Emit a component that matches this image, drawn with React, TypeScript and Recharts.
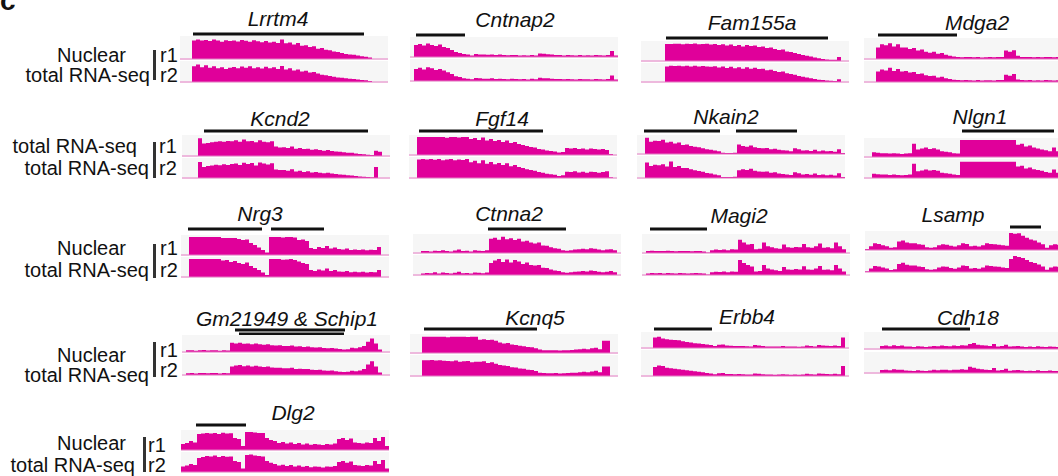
import React from "react";
import { AreaChart, Area, XAxis, YAxis, LineChart, Line } from "recharts";

const MAGENTA = "#E0009A";
const BASELINE = "#E57CC4";
const TRACK_BG = "#F6F6F6";
const FONT = "Arial, 'Liberation Sans', Helvetica, sans-serif";
const BIN = 4; // px per bin

// coverage per bin, 0..10 = full track height
const lrrtm4R1 = [0, 0, 0, 8, 8.5, 8, 8.3, 7.8, 8.5, 8, 7.5, 8.2, 7.8, 8, 7.6, 8.3, 7.9, 7.5, 8.1, 7.7, 7.3, 7.8, 7.2, 7.5, 7, 8.5, 6.8, 7.2, 6.3, 7, 5.8, 6, 5.2, 5.5, 4.5, 4.8, 4, 3.8, 3.3, 3, 2.6, 2.2, 2, 1.8, 1.5, 1.2, 1, 0.6, 0, 0, 0, 0];
const lrrtm4R2 = [0, 0, 0, 7.5, 8.3, 7, 8, 6.8, 7.5, 6.5, 7, 6.2, 6.8, 7.2, 6.5, 7.4, 6.8, 7.5, 6.6, 7, 6.4, 7.3, 6.5, 7, 6.2, 7.6, 6, 6.5, 5.5, 6, 5, 5.4, 4.5, 4.8, 4, 3.5, 3.2, 2.8, 2.5, 2.2, 2, 1.8, 1.6, 1.4, 1.2, 1, 0.8, 0.5, 0, 0, 0, 0];

const cntnap2R1 = [0, 6, 6.5, 5.8, 6.8, 6, 5.5, 6.2, 5, 4.5, 3.5, 2.5, 2, 1.5, 1.2, 0.8, 1.5, 1.3, 1.2, 1.1, 1.3, 1, 1.2, 1, 0.9, 1, 1, 0.8, 0.9, 0.8, 1, 0.8, 1.8, 1.6, 1.4, 1.2, 1, 1, 0.8, 1, 0.9, 0.8, 1, 0.8, 0.9, 0.8, 1, 0.9, 0.8, 1, 3, 0.8];
const cntnap2R2 = [0, 5.5, 6, 5.2, 6.2, 5.8, 5, 5.5, 4.8, 4, 3.2, 2.2, 1.8, 1.2, 1, 0.8, 1.4, 1.2, 1, 1, 1.2, 0.9, 1, 0.9, 0.8, 1, 0.9, 0.8, 0.9, 0.7, 1, 0.8, 1.5, 1.3, 1.2, 1, 0.9, 0.9, 0.8, 0.9, 0.8, 0.7, 0.9, 0.8, 0.8, 0.7, 0.9, 0.8, 0.7, 0.9, 2.5, 0.7];

const fam155aR1 = [0, 0, 0, 0, 0, 0, 8.5, 8.5, 8.6, 8.6, 8.4, 8.6, 8.5, 8.7, 8.4, 8.5, 8.6, 8.3, 8.5, 8, 8.4, 7.8, 8.2, 7.5, 8, 7.2, 8, 7.5, 7.8, 7, 7.3, 6.5, 6.8, 6, 5.5, 5.8, 4.8, 4.5, 4, 3.5, 3, 2.6, 2.2, 1.8, 1.4, 1, 0.8, 0.6, 0.6, 2, 0, 0];
const fam155aR2 = [0, 0, 0, 0, 0, 0, 8.2, 8.6, 8.4, 8.5, 8.3, 8.6, 8.2, 8.5, 8.1, 8.4, 8.2, 8, 8.3, 7.6, 8.2, 7.4, 8, 7.2, 7.8, 7, 7.8, 7, 7.5, 6.8, 7, 6.2, 6.5, 5.8, 5.2, 5.5, 4.6, 4.2, 3.8, 3.2, 2.8, 2.4, 2, 1.6, 1.2, 1, 0.8, 0.6, 0.5, 1.5, 0, 0];

const mdga2R1 = [0, 0, 0, 5.5, 7, 6.5, 7.5, 6, 7, 5.5, 5.5, 4.8, 5.2, 4, 4.5, 3.5, 3, 3.5, 2.5, 2.8, 2, 1.5, 1.2, 1, 0.8, 1, 0.9, 0.8, 1, 0.7, 0.8, 0.9, 0.8, 1, 1, 4, 3.5, 4.2, 1.5, 1, 0.9, 1, 0.8, 0.9, 0.8, 1, 0.9, 0.8, 0.9];
const mdga2R2 = [0, 0, 0, 5, 6, 5.5, 6.8, 5.2, 6.2, 5, 5.2, 4.5, 4.8, 3.8, 4, 3.2, 2.8, 3, 2.2, 2.5, 1.8, 1.4, 1.1, 0.9, 0.8, 0.9, 0.8, 0.7, 0.9, 0.7, 0.8, 0.8, 0.7, 0.9, 0.9, 3.5, 3, 3.8, 1.2, 0.9, 0.8, 0.9, 0.7, 0.8, 0.7, 0.9, 0.8, 0.7, 0.8];

const kcnd2R1 = [0, 0, 0, 0, 8.5, 6, 6.2, 6.5, 6.8, 7, 6.8, 7.2, 7, 7.5, 6.8, 7.8, 7, 7.2, 6.5, 7.5, 6.8, 6.5, 7, 4.5, 4, 4.2, 3.8, 4.5, 3.5, 3.8, 3.3, 3.5, 3, 3.2, 2.8, 2.5, 2.8, 2.4, 2.2, 2, 1.8, 1.6, 1.5, 1.2, 1, 0.8, 0.6, 0.5, 2.5, 2, 0, 0];
const kcnd2R2 = [0, 0, 0, 0, 8, 5.5, 6, 6.2, 6.6, 6.4, 6.9, 6.5, 7, 7.2, 6.5, 7.6, 7, 7.5, 6.2, 7.8, 7.2, 6.8, 7.4, 4.2, 4, 4, 3.6, 4.4, 3.3, 3.6, 3, 3.4, 2.8, 3, 2.6, 2.4, 2.6, 2.2, 2, 1.8, 1.6, 1.4, 1.2, 1, 0.8, 0.6, 0.5, 0.4, 5.5, 0, 0, 0];

const fgf14R1 = [0, 0, 9, 9, 9, 9, 9, 9, 9, 8.6, 9, 9, 8.8, 9, 9, 8, 8.5, 7.5, 8.8, 7.2, 8, 7, 7.5, 6.5, 7.2, 6, 6.5, 5.5, 5, 4.5, 4, 3.8, 3, 2.8, 2.2, 2, 1.8, 1.2, 1.5, 3.5, 3.2, 3.5, 3, 3.3, 2.8, 3.2, 3, 2.8, 3, 2.5, 0.5, 0];
const fgf14R2 = [0, 0, 8.8, 9, 8.8, 9, 8.7, 9, 8.5, 8.8, 9, 8.5, 8.8, 8.6, 9, 7.5, 8.2, 7, 8.5, 6.8, 7.6, 6.5, 7.2, 6.2, 7, 5.6, 6.2, 5.2, 4.8, 4.2, 3.8, 3.5, 2.8, 2.5, 2, 1.8, 1.6, 1, 1.3, 3, 2.8, 3.2, 2.6, 3, 2.5, 3, 2.8, 2.5, 2.8, 3.2, 0.3, 0];

const nkain2R1 = [0, 0, 8.5, 6.5, 7, 6.8, 7.5, 6, 6.5, 5.5, 6, 4.8, 5, 4.2, 3.8, 3.5, 3, 2.5, 2.2, 1.8, 1.5, 0.6, 0.5, 0.5, 0.6, 5, 4.2, 3.8, 4.5, 3.5, 3.2, 3, 3.2, 2.5, 2.8, 2.2, 2, 1.8, 1.5, 3, 2.5, 1.8, 2, 1.6, 2.2, 1.5, 1.8, 1.4, 1.6, 1.2, 2.5, 0.5];
const nkain2R2 = [0, 0, 7, 5.5, 6, 5.8, 6.2, 5.2, 7.5, 5, 5.5, 4.5, 4.6, 4, 3.5, 3.2, 2.8, 2.3, 2, 1.6, 1.3, 0.5, 0.4, 0.5, 0.6, 3.5, 4, 3.6, 4.2, 3.3, 3, 2.8, 3, 2.4, 2.6, 2, 1.8, 1.6, 1.4, 2.6, 2.2, 1.6, 1.8, 1.5, 2, 1.4, 1.6, 1.3, 1.5, 1.1, 2.2, 0.4];

const nlgn1R1 = [0, 0, 2.5, 2.2, 2, 2, 1.8, 2, 1.8, 1.6, 1.8, 2, 7, 4, 4.5, 5, 4.2, 4.6, 4, 3, 2.8, 2.5, 2, 1.8, 9, 9, 9, 9, 9, 9, 9, 9, 9, 9, 9, 9, 9, 9, 6.5, 7, 5.5, 6, 5, 4.5, 4, 3.5, 3, 5, 3];
const nlgn1R2 = [0, 0, 2.2, 2, 1.8, 1.8, 1.6, 1.8, 1.6, 1.5, 1.6, 1.8, 7.5, 3.5, 4, 4.5, 4, 4.2, 3.8, 2.8, 2.5, 2.3, 1.8, 1.6, 8.6, 8.5, 8.6, 8.5, 8.6, 8.5, 8.6, 8.5, 8.6, 8.5, 8.6, 8.5, 8.6, 8.5, 6, 6.5, 5, 5.5, 4.6, 4.2, 3.8, 3.2, 2.8, 4.5, 2.8];

const nrg3R1 = [0, 0, 9, 9, 9, 9, 9, 9, 9, 9, 8.5, 8.5, 8.5, 8.5, 8, 7.5, 7.8, 6, 5, 3.8, 2.5, 1.2, 9, 9, 9, 8.8, 9, 9, 8.8, 7.5, 7.8, 7, 3.5, 3, 4, 3.5, 4.5, 3.2, 3.8, 3, 2.8, 3.2, 2.5, 2.8, 2.5, 2.8, 2.4, 2.6, 2.5, 4, 0, 0];
const nrg3R2 = [0, 0, 9, 9, 9, 9, 9, 9, 9, 9, 8.2, 8.5, 7.5, 8, 7, 6.5, 7.2, 5.5, 4.5, 3.5, 2.2, 1, 9, 9, 9, 8.6, 8.8, 9, 8.5, 7.8, 7, 6.5, 3.5, 3, 3.8, 3.2, 4.2, 3, 3.5, 2.8, 2.6, 3, 2.4, 2.6, 2.4, 2.6, 2.2, 2.5, 2.4, 3.5, 0, 0];

const ctnna2R1 = [0, 0, 1, 1, 0.8, 1.2, 1, 1.5, 1, 0.8, 1.3, 1.8, 1, 1.2, 0.8, 1.4, 1.2, 1, 1.5, 7.5, 8, 7, 8.5, 7.2, 7.8, 6.8, 7.5, 6, 6.5, 5.5, 5, 5.5, 4, 3.8, 3, 2.5, 2.2, 1.5, 1.2, 1.5, 1.8, 2, 2.2, 2, 2.5, 2.2, 1.8, 1.5, 1.8, 2, 1.5, 0];
const ctnna2R2 = [0, 0, 0.8, 1, 0.9, 1.4, 0.8, 1.2, 1, 0.7, 1.1, 1.6, 0.9, 1, 0.8, 1.2, 1.1, 0.9, 1.3, 6, 7.2, 8, 6.5, 7.8, 6.2, 7.5, 6.8, 5.5, 6.2, 5, 4.8, 5, 3.6, 3.5, 2.8, 2.3, 2, 1.4, 1.1, 1.4, 1.6, 1.8, 2, 1.8, 2.3, 2, 1.6, 1.4, 1.6, 2, 1.4, 0];

const magi2R1 = [0, 1, 1.2, 1, 1.1, 1, 1.2, 1, 0.9, 1.1, 1, 1, 0.9, 1, 1.1, 0.8, 0.3, 1.5, 1.8, 1.6, 1.8, 1.5, 2, 1.8, 7, 5.5, 4.5, 4.8, 2, 2.2, 5.5, 3.5, 3, 2.5, 2.2, 4.5, 3, 2.8, 3.2, 3, 4.8, 3, 2.8, 3.5, 5, 2.8, 3, 2.5, 5.5, 3.5, 2, 0];
const magi2R2 = [0, 0.8, 1, 0.9, 1, 0.8, 1, 0.9, 0.8, 1, 0.9, 0.8, 0.9, 1, 0.9, 0.7, 0.3, 1.4, 1.6, 1.5, 1.7, 1.4, 1.8, 1.6, 7.5, 6, 5, 4.2, 1.8, 2, 5, 3.2, 2.8, 2.4, 2, 4, 2.8, 2.6, 3, 2.8, 4.4, 2.8, 2.6, 3.2, 4.5, 2.6, 2.8, 2.4, 5, 3.2, 1.8, 0];

const lsampR1 = [0.5, 2, 3.5, 3.2, 2.5, 2, 1.2, 1.5, 4.5, 5, 4, 3.5, 3.5, 3, 2.8, 1.5, 1.2, 1.5, 2.5, 3, 2.8, 2.2, 1.8, 2.5, 3.5, 3.2, 2, 2.2, 1.8, 2.5, 3.5, 3.2, 3, 2.8, 2.5, 2.2, 9, 8.5, 8.8, 7.5, 6.5, 5.5, 5, 4, 3, 1.2, 2.5, 3, 2.8];
const lsampR2 = [0.4, 1.8, 3, 2.8, 2.2, 1.8, 1, 1.4, 4, 4.6, 3.6, 3.2, 3.2, 2.8, 2.5, 1.4, 1.1, 1.4, 2.2, 2.8, 2.6, 2, 1.6, 2.2, 3.2, 3, 1.8, 2, 1.6, 2.2, 3.2, 3, 2.8, 2.6, 2.3, 2, 6.5, 8, 7.5, 7, 6, 5, 4.5, 3.8, 2.8, 1.1, 2.2, 2.8, 2.6];

const gm21949R1 = [0, 1, 1, 0.8, 1, 1.2, 0.9, 1, 1.1, 0.8, 1, 0.9, 5.5, 5, 5.5, 4.8, 5, 4.5, 5, 4.6, 4.2, 4.5, 4, 3.8, 4, 3.6, 3.5, 3.8, 3.2, 3.4, 3, 3.2, 2.8, 2.6, 2.8, 2.4, 2.2, 2.4, 2, 1.8, 1.5, 1.6, 2.5, 2.2, 2.8, 3.5, 6, 8, 5, 1.5, 0, 0];
const gm21949R2 = [0, 0.8, 1, 0.7, 0.9, 1, 0.8, 0.9, 1, 0.7, 0.9, 0.8, 4, 4.5, 4.8, 4.2, 4.5, 4, 4.4, 4, 3.8, 4, 3.6, 3.4, 3.5, 3.2, 3.2, 3.4, 2.9, 3, 2.8, 2.9, 2.5, 2.4, 2.5, 2.2, 2, 2.2, 1.8, 1.6, 1.4, 1.5, 2, 1.8, 2.2, 2.8, 5, 6.5, 4, 1.2, 0, 0];

const kcnq5R1 = [0, 0, 0, 8.5, 8.5, 8.5, 8.5, 8.5, 8.5, 8.3, 8.5, 8.5, 8.5, 8.5, 8.4, 8.5, 8.5, 7, 7.2, 6.8, 7, 6.5, 5.5, 5, 5.2, 4.5, 4.2, 3.8, 3.5, 3.2, 3, 2.5, 1.8, 1.5, 1.5, 1.4, 1.5, 1.3, 1.4, 1.5, 1.6, 1.8, 2, 2.2, 2, 2.5, 2.8, 2, 6.5, 6.5, 0, 0];
const kcnq5R2 = [0, 0, 0, 7.5, 7.5, 7.6, 7.4, 7.5, 7.3, 7.2, 7, 7.4, 6.8, 7, 7.2, 6.5, 6.8, 6.8, 7, 6.2, 6.5, 5.8, 5.2, 5, 4.8, 4.2, 4, 3.6, 3.4, 3, 2.8, 2.4, 1.6, 1.4, 1.3, 1.3, 1.4, 1.2, 1.3, 1.4, 1.5, 1.6, 1.8, 2, 1.8, 2.2, 2.5, 1.8, 4.5, 4.5, 0, 0];

const erbb4R1 = [0, 0, 0, 6.5, 7, 6, 5.5, 5.2, 5, 4.8, 4.2, 3.8, 3.5, 3, 2.8, 2.5, 2.2, 1.8, 1.2, 2, 2.2, 1.5, 1.4, 1.2, 1.3, 1.2, 1.1, 1, 1.8, 1.5, 1.2, 1, 1, 0.9, 1, 1.2, 1, 0.9, 1, 0.8, 1, 1.5, 1.2, 1, 1.8, 1.6, 1.4, 1.2, 1.5, 1.2, 6.5, 0];
const erbb4R2 = [0, 0, 0, 3.5, 4, 3.8, 3.2, 3, 2.8, 2.6, 2.4, 2.2, 2, 1.8, 1.6, 1.4, 1.2, 1, 0.7, 1.1, 1.2, 0.8, 0.8, 0.7, 0.8, 0.7, 0.6, 0.6, 1, 0.9, 0.7, 0.6, 0.6, 0.5, 0.6, 0.7, 0.6, 0.5, 0.6, 0.5, 0.6, 0.9, 0.7, 0.6, 1, 0.9, 0.8, 0.7, 0.9, 0.7, 3.8, 0];

const cdh18R1 = [0, 0, 0, 0, 1.8, 2, 1.6, 2.2, 1.8, 2, 1.5, 1.4, 1.2, 1.6, 1.4, 1.2, 1.5, 1.8, 1.6, 2, 1.8, 1.6, 2, 1.8, 2.2, 2, 3, 3.5, 2.5, 2.2, 2, 1.8, 3, 1.5, 1.8, 2.5, 1.4, 1.6, 1.8, 1.5, 1.2, 1.4, 1.2, 1.6, 1.3, 1.2, 1.5, 1.3, 1.2];
const cdh18R2 = [0, 0, 0, 0, 1.4, 1.6, 1.3, 1.8, 1.5, 1.6, 1.2, 1.1, 1, 1.3, 1.1, 1, 1.2, 1.5, 1.3, 1.6, 1.5, 1.3, 1.6, 1.5, 1.8, 1.6, 3, 2.5, 2, 1.8, 1.6, 1.4, 2.4, 1.2, 1.4, 2, 1.1, 1.3, 1.4, 1.2, 1, 1.1, 1, 1.3, 1, 1, 1.2, 1, 1];

const dlg2R1 = [3, 3.5, 4.5, 3.8, 8, 8.2, 8.5, 8.3, 8.5, 8, 8.6, 8.2, 8.4, 6, 5.5, 2, 9, 9, 8.8, 8.5, 8.5, 6, 5, 4.5, 3.5, 4, 3.2, 3.8, 3, 3.5, 2.8, 3.2, 2.6, 3, 2.8, 2.5, 3, 2.8, 3.2, 5.5, 6, 5, 5.8, 3.8, 3.5, 3.2, 3.8, 3.5, 6, 4.5, 6.5, 2];
const dlg2R2 = [2.8, 3.2, 4, 3.5, 7, 7.5, 8, 7.8, 8.2, 7.5, 8, 7.6, 7.8, 5.5, 5, 1.8, 8.5, 8.8, 8.2, 8, 7.8, 5.5, 4.6, 4, 3.2, 3.6, 3, 3.5, 2.8, 3.2, 2.6, 3, 2.4, 2.8, 2.6, 2.3, 2.8, 2.6, 3, 5, 5.5, 4.6, 5.2, 3.5, 3.2, 3, 3.5, 3.2, 5.5, 4, 6, 1.8];

// gene models: [startBin, endBin, lane]
const lrrtm4Gene = [[3.25, 46, 5]];
const cntnap2Gene = [[1.5, 13.75, 5]];
const fam155aGene = [[6.25, 46.75, 5]];
const mdga2Gene = [[3.5, 23.25, 5]];
const kcnd2Gene = [[5.5, 46.5, 5]];
const fgf14Gene = [[2.5, 33.5, 5]];
const nkain2Gene = [[1.75, 20.75, 5], [24.75, 40, 5]];
const nlgn1Gene = [[24.5, 47.5, 5]];
const nrg3Gene = [[1.75, 20.25, 5], [22.5, 35.75, 5]];
const ctnna2Gene = [[18.75, 38.25, 5]];
const magi2Gene = [[2, 16.25, 5]];
const lsampGene = [[36.25, 44, 5]];
const gm21949Gene = [[13.25, 40.75, 7], [14.25, 40.5, 3]];
const kcnq5Gene = [[3.5, 31.75, 5]];
const erbb4Gene = [[3.25, 17.75, 5]];
const cdh18Gene = [[4.5, 26.5, 5]];
const dlg2Gene = [[3.75, 16.25, 5]];

const panels = [
  { name: "Lrrtm4", r1: lrrtm4R1, r2: lrrtm4R2, gene: lrrtm4Gene, x: 180, tx: 278, ty: 19, by: 34, t1: [36, 59], t2: [61, 82] },
  { name: "Cntnap2", r1: cntnap2R1, r2: cntnap2R2, gene: cntnap2Gene, x: 410, tx: 515, ty: 20, by: 35, t1: [37, 57], t2: [59, 81] },
  { name: "Fam155a", r1: fam155aR1, r2: fam155aR2, gene: fam155aGene, x: 641, tx: 752, ty: 23, by: 38, t1: [41, 61], t2: [63, 82] },
  { name: "Mdga2", r1: mdga2R1, r2: mdga2R2, gene: mdga2Gene, x: 864, tx: 977, ty: 23, by: 35, t1: [38, 59], t2: [61, 82] },
  { name: "Kcnd2", r1: kcnd2R1, r2: kcnd2R2, gene: kcnd2Gene, x: 182, tx: 280, ty: 119, by: 131, t1: [135, 156], t2: [158, 178] },
  { name: "Fgf14", r1: fgf14R1, r2: fgf14R2, gene: fgf14Gene, x: 409, tx: 502, ty: 119, by: 131, t1: [135, 155], t2: [157, 178] },
  { name: "Nkain2", r1: nkain2R1, r2: nkain2R2, gene: nkain2Gene, x: 637, tx: 726, ty: 117, by: 131, t1: [135, 154], t2: [156, 178] },
  { name: "Nlgn1", r1: nlgn1R1, r2: nlgn1R2, gene: nlgn1Gene, x: 864, tx: 980, ty: 117, by: 131, t1: [138, 157], t2: [159, 178] },
  { name: "Nrg3", r1: nrg3R1, r2: nrg3R2, gene: nrg3Gene, x: 181, tx: 260, ty: 214, by: 229, t1: [235, 255], t2: [257, 277] },
  { name: "Ctnna2", r1: ctnna2R1, r2: ctnna2R2, gene: ctnna2Gene, x: 413, tx: 509, ty: 214, by: 229, t1: [234, 253], t2: [255, 275] },
  { name: "Magi2", r1: magi2R1, r2: magi2R2, gene: magi2Gene, x: 642, tx: 739, ty: 216, by: 229, t1: [234, 253], t2: [255, 275] },
  { name: "Lsamp", r1: lsampR1, r2: lsampR2, gene: lsampGene, x: 865, tx: 953, ty: 215, by: 227, t1: [231, 250], t2: [252, 272] },
  { name: "Gm21949 & Schip1", r1: gm21949R1, r2: gm21949R2, gene: gm21949Gene, x: 182, tx: 287, ty: 319, by: 332, t1: [335, 352], t2: [354, 375] },
  { name: "Kcnq5", r1: kcnq5R1, r2: kcnq5R2, gene: kcnq5Gene, x: 410, tx: 535, ty: 318, by: 329, t1: [334, 353], t2: [355, 376] },
  { name: "Erbb4", r1: erbb4R1, r2: erbb4R2, gene: erbb4Gene, x: 641, tx: 747, ty: 317, by: 329, t1: [332, 348], t2: [350, 376] },
  { name: "Cdh18", r1: cdh18R1, r2: cdh18R2, gene: cdh18Gene, x: 864, tx: 968, ty: 318, by: 329, t1: [332, 349], t2: [352, 373] },
  { name: "Dlg2", r1: dlg2R1, r2: dlg2R2, gene: dlg2Gene, x: 181, tx: 293, ty: 413, by: 425, t1: [430, 450], t2: [452, 472] },
];

// row labels: [text, rightEdge, centerY]
const rowLabels = [
  { lines: [["Nuclear", 126, 55], ["total RNA-seq", 150, 75]], bar: [154, 50, 80], rx: 160, ry: [55, 75] },
  { lines: [["total RNA-seq", 137, 146], ["total RNA-seq", 149, 168]], bar: [154, 142, 178], rx: 159, ry: [146, 168] },
  { lines: [["Nuclear", 126, 248], ["total RNA-seq", 149, 270]], bar: [154, 244, 278], rx: 160, ry: [248, 270] },
  { lines: [["Nuclear", 126, 355], ["total RNA-seq", 149, 375]], bar: [154, 342, 377], rx: 160, ry: [350, 370] },
  { lines: [["Nuclear", 126, 443], ["total RNA-seq", 135, 465]], bar: [144, 437, 472], rx: 148, ry: [445, 465] },
];

const textStyle: React.CSSProperties = {
  position: "absolute",
  fontFamily: FONT,
  fontSize: 20,
  lineHeight: "20px",
  height: 20,
  color: "#111",
  whiteSpace: "nowrap",
};

function Track({ values, top, bottom, x }: { values: number[]; top: number; bottom: number; x: number }) {
  const n = values.length;
  const data = values.map((v, i) => ({ x: i, v })).concat([{ x: n, v: values[n - 1] }]);
  const h = bottom - top + 1;
  return (
    <div style={{ position: "absolute", left: x, top, width: n * BIN, height: h, background: TRACK_BG }}>
      <AreaChart width={n * BIN} height={h} data={data} margin={{ top: 0, right: 0, bottom: 0, left: 0 }}>
        <XAxis type="number" dataKey="x" domain={[0, n]} tick={false} tickLine={false} axisLine={{ stroke: BASELINE, strokeWidth: 1 }} height={1} />
        <YAxis hide type="number" domain={[0, 10]} allowDataOverflow />
        <Area type="stepAfter" dataKey="v" stroke="none" fill={MAGENTA} fillOpacity={1} isAnimationActive={false} />
      </AreaChart>
    </div>
  );
}

function GeneModel({ bars, n, x, y }: { bars: number[][]; n: number; x: number; y: number }) {
  // one series per lane, segments separated by null breaks
  const lanes = Array.from(new Set(bars.map((b) => b[2])));
  const data: Record<string, number | null>[] = [];
  bars.forEach(([s, e, lane]) => {
    data.push({ x: s, ["l" + lane]: lane });
    data.push({ x: e, ["l" + lane]: lane });
    data.push({ x: e, ["l" + lane]: null });
  });
  return (
    <div style={{ position: "absolute", left: x, top: y - 5 }}>
      <LineChart width={n * BIN} height={10} data={data} margin={{ top: 0, right: 0, bottom: 0, left: 0 }}>
        <XAxis type="number" dataKey="x" domain={[0, n]} hide allowDataOverflow />
        <YAxis type="number" domain={[0, 10]} hide allowDataOverflow />
        {lanes.map((lane) => (
          <Line
            key={lane}
            dataKey={"l" + lane}
            stroke="#111"
            strokeWidth={3}
            dot={false}
            activeDot={false}
            connectNulls={false}
            strokeLinecap="butt"
            isAnimationActive={false}
          />
        ))}
      </LineChart>
    </div>
  );
}

export default function App() {
  return (
    <div style={{ position: "absolute", left: 0, top: 0, width: 1058, height: 476, overflow: "hidden", background: "#fff" }}>
      <div style={{ ...textStyle, left: 0, top: -13, fontSize: 28, lineHeight: "28px", height: 28, fontWeight: "bold" }}>c</div>
      {rowLabels.map((row, ri) => (
        <React.Fragment key={ri}>
          {row.lines.map(([t, right, cy], li) => (
            <div key={li} style={{ ...textStyle, left: (right as number) - 200, width: 200, textAlign: "right", top: (cy as number) - 10 }}>
              {t}
            </div>
          ))}
          <div style={{ position: "absolute", left: row.bar[0] - 1.5, top: row.bar[1], width: 3, height: row.bar[2] - row.bar[1], background: "#333" }} />
          <div style={{ ...textStyle, left: row.rx, top: row.ry[0] - 10 }}>r1</div>
          <div style={{ ...textStyle, left: row.rx, top: row.ry[1] - 10 }}>r2</div>
        </React.Fragment>
      ))}
      {panels.map((p) => (
        <React.Fragment key={p.name}>
          <div style={{ ...textStyle, left: p.tx - 150, width: 300, textAlign: "center", top: p.ty - 11, fontSize: 21, lineHeight: "21px", height: 21, fontStyle: "italic" }}>
            {p.name}
          </div>
          <GeneModel bars={p.gene} n={p.r1.length} x={p.x} y={p.by} />
          <Track values={p.r1} top={p.t1[0]} bottom={p.t1[1]} x={p.x} />
          <Track values={p.r2} top={p.t2[0]} bottom={p.t2[1]} x={p.x} />
        </React.Fragment>
      ))}
    </div>
  );
}
